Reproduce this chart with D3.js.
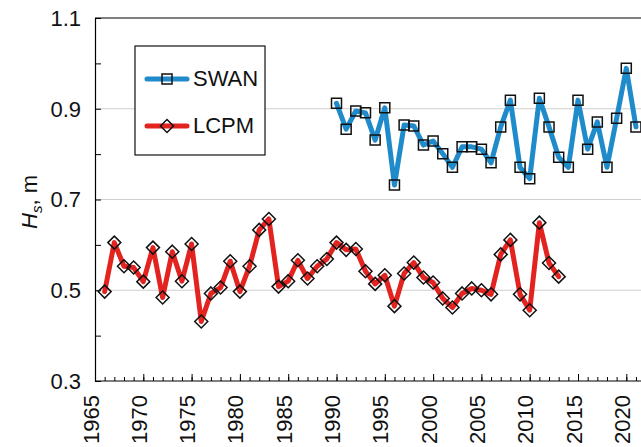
<!DOCTYPE html>
<html>
<head>
<meta charset="utf-8">
<script src="https://cdn.jsdelivr.net/npm/d3@7"></script>
<style>
  html, body { margin: 0; padding: 0; background: #fff; overflow: hidden; }
  svg { display: block; font-family: "Liberation Sans", Arial, sans-serif; }
</style>
</head>
<body>
<svg id="chart" width="641" height="447"></svg>
<script>
// Annual mean significant wave height (m)
const swanYears = d3.range(1990, 2022);
const swanValues = [0.912, 0.855, 0.895, 0.891, 0.831, 0.902, 0.732, 0.864, 0.862, 0.820,
                    0.829, 0.801, 0.771, 0.816, 0.816, 0.811, 0.781, 0.860, 0.919, 0.771,
                    0.746, 0.923, 0.860, 0.793, 0.771, 0.919, 0.811, 0.871, 0.771, 0.879,
                    0.989, 0.860];

const lcpmYears = d3.range(1966, 2014);
const lcpmValues = [0.497, 0.605, 0.553, 0.550, 0.519, 0.594, 0.484, 0.585, 0.520, 0.602,
                    0.431, 0.493, 0.506, 0.564, 0.497, 0.553, 0.633, 0.657, 0.508, 0.520,
                    0.566, 0.526, 0.553, 0.569, 0.605, 0.589, 0.591, 0.542, 0.514, 0.533,
                    0.465, 0.537, 0.561, 0.528, 0.517, 0.482, 0.462, 0.493, 0.504, 0.500,
                    0.491, 0.579, 0.611, 0.491, 0.456, 0.649, 0.560, 0.530];

const yTickLabels = [0.3, 0.5, 0.7, 0.9, 1.1];
const yGridValues = [0.5, 0.7, 0.9];
const xTickLabels = d3.range(1965, 2025, 5);

const seriesNames = ["SWAN", "LCPM"];
const seriesColors = ["#1f8bca", "#e3231f"];

const svg = d3.select("#chart");
const plotLeft = 95, plotTop = 18, plotBottom = 381, plotRight = 641;

const x = d3.scaleLinear().domain([1965, 2025]).range([plotLeft, plotLeft + 60 * 9.66]);
const y = d3.scaleLinear().domain([0.3, 1.1]).range([plotBottom, plotTop]);

// grid lines
svg.append("g").selectAll("line").data(yGridValues).join("line")
  .attr("x1", plotLeft).attr("x2", plotRight)
  .attr("y1", d => y(d)).attr("y2", d => y(d))
  .attr("stroke", "#cfcfcf").attr("stroke-width", 1.2);

// top frame
svg.append("line").attr("x1", plotLeft).attr("x2", plotRight).attr("y1", plotTop).attr("y2", plotTop)
  .attr("stroke", "#000").attr("stroke-width", 1.2);

// y axis: inward ticks every 0.1, labels at 0.2 steps
const yAxis = d3.axisLeft(y).tickValues(d3.range(0.3, 1.1001, 0.1)).tickSizeInner(-6).tickSizeOuter(0).tickFormat("");
const gy = svg.append("g").attr("transform", `translate(${plotLeft},0)`).call(yAxis);
gy.select(".domain").attr("stroke", "#000").attr("stroke-width", 1.2);
gy.selectAll(".tick line").attr("stroke", "#000").attr("stroke-width", 1);

svg.append("g").selectAll("text").data(yTickLabels).join("text")
  .attr("x", 81).attr("y", d => y(d)).attr("dy", "0.36em")
  .attr("text-anchor", "end").attr("font-size", 22).attr("fill", "#111")
  .text(d => d3.format(".1f")(d));

// x axis: inward ticks each year, longer every 5 years
const xMinor = d3.axisBottom(x).tickValues(d3.range(1965, 2025)).tickSizeInner(-4).tickSizeOuter(0).tickFormat("");
const gx = svg.append("g").attr("transform", `translate(0,${plotBottom})`).call(xMinor);
gx.select(".domain").attr("d", `M${plotLeft},0H${plotRight}`).attr("stroke", "#000").attr("stroke-width", 1.2);
gx.selectAll(".tick line").attr("stroke", "#000").attr("stroke-width", 1);
const xMajor = d3.axisBottom(x).tickValues(xTickLabels).tickSizeInner(-7).tickSizeOuter(0).tickFormat("");
const gx2 = svg.append("g").attr("transform", `translate(0,${plotBottom})`).call(xMajor);
gx2.select(".domain").remove();
gx2.selectAll(".tick line").attr("stroke", "#000").attr("stroke-width", 1);

svg.append("g").selectAll("text").data(xTickLabels).join("text")
  .attr("transform", d => `translate(${x(d) + 3.5},395) rotate(-90)`)
  .attr("text-anchor", "end").attr("font-size", 22).attr("fill", "#111")
  .text(d => d);

// y axis title
const title = svg.append("text")
  .attr("transform", "translate(37,202) rotate(-90)")
  .attr("text-anchor", "middle").attr("font-size", 22).attr("fill", "#111");
title.append("tspan").attr("font-style", "italic").text("H");
title.append("tspan").attr("font-style", "italic").attr("font-size", 15).attr("dy", 5).text("s");
title.append("tspan").attr("dy", -5).text(", m");

// series
const line = d3.line().x(d => x(d[0])).y(d => y(d[1]));
const swanData = d3.zip(swanYears, swanValues);
const lcpmData = d3.zip(lcpmYears, lcpmValues);

function drawSeries(data, color, shape) {
  svg.append("path").datum(data).attr("d", line)
    .attr("fill", "none").attr("stroke", color).attr("stroke-width", 5)
    .attr("stroke-linejoin", "round").attr("stroke-linecap", "round");
  svg.append("g").selectAll("path").data(data).join("path")
    .attr("transform", d => `translate(${x(d[0])},${y(d[1])})`)
    .attr("d", shape)
    .attr("fill", "none").attr("stroke", "#111").attr("stroke-width", 1.5);
}
const squareShape = "M-5,-5H5V5H-5Z";
const diamondShape = "M0,-6.5L6.5,0L0,6.5L-6.5,0Z";

drawSeries(swanData, seriesColors[0], squareShape);
drawSeries(lcpmData, seriesColors[1], diamondShape);

// legend
const lg = svg.append("g");
lg.append("rect").attr("x", 135).attr("y", 46).attr("width", 130).attr("height", 109)
  .attr("fill", "#fff").attr("stroke", "#111").attr("stroke-width", 1.2);
const shapes = [squareShape, diamondShape];
const ly = [79, 126];
seriesNames.forEach((name, i) => {
  lg.append("line").attr("x1", 147).attr("x2", 187).attr("y1", ly[i]).attr("y2", ly[i])
    .attr("stroke", seriesColors[i]).attr("stroke-width", 5).attr("stroke-linecap", "round");
  lg.append("path").attr("transform", `translate(167,${ly[i]})`).attr("d", shapes[i])
    .attr("fill", "none").attr("stroke", "#111").attr("stroke-width", 1.5);
  lg.append("text").attr("x", 193).attr("y", ly[i] + 6.5).attr("font-size", 22).attr("fill", "#111")
    .text(name);
});
</script>
</body>
</html>
